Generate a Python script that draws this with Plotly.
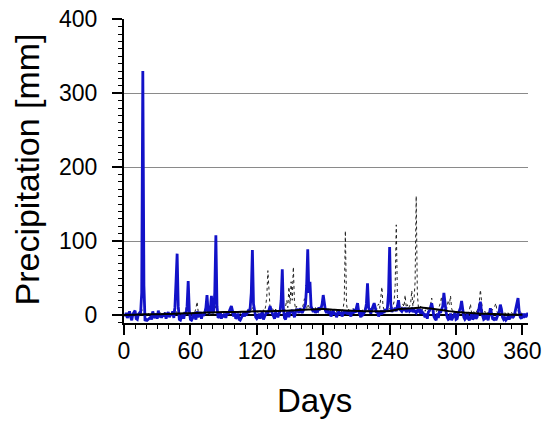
import plotly.graph_objects as go

# Daily model precipitation (blue), days 1..365
blue = [
    -2, 3, -4, 2, 5, -3, -7, 1, 4, 6,
    -5, -6, 1, 3, 2, 30, 330, 40, -8, -6,
    -7, -6, -5, -3, -6, 5, -2, -4, 2, -5,
    6, -3, 1, -4, 2, -2, 3, -5, 1, 4,
    -3, 2, -1, 5, -4, 10, 45, 83, 12, -6,
    -7, -3, 2, -5, 4, 1, 12, 46, 6, -6,
    -7, -4, 3, -2, -6, 5, -3, 1, 4, -5,
    2, -1, 3, 10, 27, 4, 3, 8, 26, 3,
    5, 30, 108, 12, -4, -2, 3, -5, 1, -3,
    2, -4, 3, 1, 5, 8, 12, 6, -2, 3,
    -5, -3, 2, -6, -7, -4, 1, 3, -2, 4,
    2, 5, 3, 10, 30, 88, 15, 3, -3, -5,
    -3, 2, -5, 1, 4, -6, -2, 3, 5, 2,
    8, 12, 6, 3, -2, -5, 4, 1, -3, 2,
    5, 20, 62, 8, -4, -6, 2, 4, -3, 6,
    3, 7, 2, -3, 4, 8, 6, 3, 9, 5,
    3, 6, 10, 15, 40, 89, 30, 45, 12, 6,
    4, 8, 3, 6, 5, 10, 8, 9, 15, 27,
    12, 6, 3, 8, 2, 5, -2, 4, 6, 1,
    3, -3, 2, 5, 1, 4, -2, 3, 6, 2,
    5, 1, 4, 3, -2, 6, 2, 8, 3, 10,
    16, 5, 2, -3, 4, 1, 3, 6, 15, 43,
    10, 4, 2, 8, 12, 16, 10, 3, 5, -2,
    2, 4, 1, 6, 3, 8, 5, 10, 30, 92,
    15, 4, 8, 6, 10, 5, 12, 20, 8, 6,
    5, 8, 6, 10, 4, 7, 9, 5, 6, 8,
    4, 7, 5, 3, 6, 4, 8, 2, 5, 3,
    1, -3, 2, -5, 4, 6, 10, 16, 8, -2,
    -5, -7, 2, -4, 6, 3, 8, 12, 30, 14,
    4, -3, -6, -5, 2, -7, -4, 1, 3, -6,
    -5, 2, 6, 10, 19, 8, -3, -6, -4, 2,
    -5, -7, -3, 1, -6, -4, 2, -5, -3, 4,
    10, 18, 4, -3, -6, -5, 2, -4, -7, 1,
    9, 3, -5, -6, -3, -7, -2, 2, 5, 14,
    8, -3, -6, -4, -7, -5, -2, -6, -3, 1,
    -4, -2, 2, 8, 15, 23, 5, -3, -5, 2,
    -4, 2, -3, 1, 3,
]

# Daily observed precipitation (dotted black), days 1..365
dotted = [
    0, 2, 0, 1, 3, 0, 0, 2, 1, 0,
    0, 1, 0, 2, 5, 8, 3, 0, 0, 1,
    0, 2, 1, 0, 3, 2, 0, 1, 0, 2,
    1, 0, 3, 1, 0, 2, 4, 1, 0, 2,
    1, 3, 0, 2, 5, 13, 6, 2, 1, 0,
    2, 1, 3, 0, 4, 8, 15, 5, 2, 1,
    0, 3, 2, 4, 9, 18, 5, 2, 1, 3,
    2, 4, 6, 10, 5, 3, 7, 4, 2, 3,
    5, 8, 12, 6, 3, 2, 4, 1, 3, 2,
    4, 2, 5, 3, 6, 4, 2, 5, 3, 1,
    2, 4, 3, 6, 2, 5, 3, 4, 2, 6,
    3, 5, 8, 4, 6, 10, 5, 3, 4, 2,
    5, 3, 6, 4, 2, 7, 5, 12, 25, 60,
    22, 8, 5, 10, 6, 4, 8, 5, 7, 3,
    6, 9, 14, 7, 5, 12, 20, 10, 38, 15,
    45, 20, 65, 18, 8, 12, 6, 9, 5, 8,
    10, 14, 22, 12, 9, 15, 10, 8, 12, 6,
    9, 7, 10, 5, 8, 12, 6, 9, 14, 8,
    6, 10, 5, 8, 4, 7, 6, 9, 5, 7,
    6, 4, 8, 5, 7, 3, 6, 9, 20, 114,
    15, 6, 8, 5, 7, 4, 9, 6, 5, 8,
    6, 9, 4, 7, 5, 8, 6, 10, 7, 5,
    8, 6, 9, 5, 7, 10, 8, 6, 12, 15,
    9, 20, 38, 12, 7, 9, 5, 8, 6, 10,
    7, 9, 12, 18, 40, 122, 25, 10, 8, 12,
    9, 15, 11, 27, 10, 14, 9, 12, 16, 33,
    12, 20, 45, 161, 30, 10, 8, 12, 6, 9,
    7, 5, 8, 6, 9, 10, 14, 23, 8, 5,
    6, 4, 7, 9, 12, 18, 25, 10, 6, 8,
    5, 12, 20, 14, 26, 9, 4, 6, 3, 5,
    2, 4, 6, 3, 5, 2, 4, 1, 3, 2,
    4, 6, 15, 3, 2, 5, 1, 3, 6, 10,
    18, 34, 12, 4, 2, 5, 3, 1, 4, 2,
    3, 5, 8, 10, 12, 16, 4, 2, 3, 1,
    2, 4, 1, 3, 2, 0, 3, 1, 2, 4,
    1, 3, 2, 0, 4, 6, 2, 1, 3, 0,
    2, 1, 0, 3, 1,
]

# Smoothed mean (solid black)
mean_days = [0, 10, 20, 30, 40, 50, 60, 70, 80, 90, 100, 110, 120, 130, 140, 150, 160, 170, 180,
             190, 200, 210, 220, 230, 240, 250, 260, 270, 280, 290, 300, 310, 320, 330, 340, 350, 360]
mean_vals = [0, 0.5, 1, 1, 1.5, 2, 2.5, 3, 3.5, 4, 4, 4.5, 5, 5, 5.5, 6, 7, 7.5, 8,
             7, 6, 5.5, 5, 5, 5.5, 8, 9, 10, 8, 6, 4, 3, 2, 1.5, 1, 0.5, 0.5]

x_ticks = [0, 60, 120, 180, 240, 300, 360]
y_ticks = [0, 100, 200, 300, 400]

days_blue = list(range(1, len(blue) + 1))
days_dot = list(range(1, len(dotted) + 1))

FONT = "Liberation Sans, Arial, Helvetica, sans-serif"

fig = go.Figure()
fig.add_trace(go.Scatter(x=days_dot, y=dotted, mode="lines",
                         line=dict(color="#222222", width=1, dash="dot"), showlegend=False))
fig.add_trace(go.Scatter(x=days_blue, y=blue, mode="lines",
                         line=dict(color="#1212C8", width=2.8), showlegend=False))
fig.add_trace(go.Scatter(x=mean_days, y=mean_vals, mode="lines",
                         line=dict(color="black", width=2, shape="spline"), showlegend=False))

X_RANGE = [0, 365]
Y_RANGE = [-10.8, 400.5]

fig.update_layout(
    width=544, height=423,
    margin=dict(l=124, r=16, t=19, b=100, autoexpand=False),
    paper_bgcolor="white", plot_bgcolor="white",
    font=dict(family=FONT, color="black"),
    xaxis=dict(range=X_RANGE, tickvals=x_ticks, ticktext=[str(v) for v in x_ticks],
               ticks="outside", ticklen=10, tickwidth=1.5, tickcolor="black",
               minor=dict(dtick=10, tick0=0, ticks="outside", ticklen=4, tickwidth=1, tickcolor="black"),
               showline=True, linewidth=2, linecolor="black", showgrid=False, zeroline=False,
               tickfont=dict(size=23, family=FONT, color="black"), ticklabelstandoff=-4,
               automargin=False),
    yaxis=dict(range=Y_RANGE, tickvals=y_ticks, ticktext=[str(v) for v in y_ticks],
               ticks="outside", ticklen=10, tickwidth=1.5, tickcolor="black",
               minor=dict(dtick=10, tick0=0, ticks="outside", ticklen=4, tickwidth=1, tickcolor="black"),
               showline=True, linewidth=2, linecolor="black",
               showgrid=True, gridcolor="#8a8a8a", gridwidth=1,
               zeroline=True, zerolinecolor="black", zerolinewidth=1.5,
               tickfont=dict(size=23, family=FONT, color="black"), ticklabelstandoff=10,
               automargin=False),
    xaxis2=dict(range=X_RANGE, overlaying="x", side="bottom", anchor="y", ticks="",
                showticklabels=False, showgrid=False, zeroline=False, showline=False,
                automargin=False,
                minor=dict(dtick=10, tick0=0, ticks="inside", ticklen=4, tickwidth=1, tickcolor="black")),
    yaxis2=dict(range=Y_RANGE, overlaying="y", side="left", anchor="x", ticks="",
                showticklabels=False, showgrid=False, zeroline=False, showline=False,
                automargin=False,
                minor=dict(dtick=10, tick0=0, ticks="inside", ticklen=4, tickwidth=1, tickcolor="black")),
    annotations=[
        dict(text="Precipitation [mm]", xref="paper", yref="paper", x=-0.24, y=0.505,
             xanchor="center", yanchor="middle", textangle=-90, showarrow=False,
             font=dict(size=34, family=FONT, color="black")),
        dict(text="Days", xref="paper", yref="paper", x=0.4715, y=-0.255,
             xanchor="center", yanchor="middle", showarrow=False,
             font=dict(size=33, family=FONT, color="black")),
    ],
)

fig.write_html("out.html", config={"displayModeBar": False},
               post_script="document.body.style.margin='0px';document.body.style.padding='0px';")
